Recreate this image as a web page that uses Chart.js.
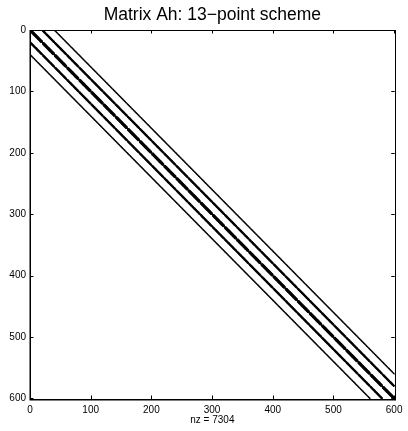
<!DOCTYPE html>
<html>
<head>
<meta charset="utf-8">
<script src="https://cdn.jsdelivr.net/npm/chart.js@4/dist/chart.umd.min.js"></script>
<style>
  html, body { margin: 0; padding: 0; background: #fff; }
  #wrap { width: 408px; height: 431px; }
</style>
</head>
<body>
<div id="wrap"><canvas id="c" width="408" height="431"></canvas></div>
<script>
// 13-point stencil on a 20 x 30 grid (fast index runs over 20 columns)
const gridCols = 20;
const gridRows = 30;
const stencilDx = [0, -1, 1, -2, 2, 0, 0, 0, 0, -1, 1, -1, 1];
const stencilDy = [0, 0, 0, 0, 0, -1, 1, -2, 2, -1, -1, 1, 1];
const tickValues = [0, 100, 200, 300, 400, 500, 600];
const titleText = 'Matrix Ah: 13\u2212point scheme';

// nonzero pattern: row = node index, column = neighbour index (1-based)
const nonzeros = [];
for (let r = 0; r < gridRows; r++) {
  for (let c = 0; c < gridCols; c++) {
    const row = r * gridCols + c + 1;
    for (let s = 0; s < stencilDx.length; s++) {
      const nc = c + stencilDx[s], nr = r + stencilDy[s];
      if (nc < 0 || nc >= gridCols || nr < 0 || nr >= gridRows) continue;
      nonzeros.push({ x: nr * gridCols + nc + 1, y: row });
    }
  }
}
const n = gridCols * gridRows;
const FONT = 'Liberation Sans, Arial, Helvetica, sans-serif';

// box around the axes and inward ticks on all four sides
const boxTicks = {
  id: 'boxTicks',
  afterDatasetsDraw(chart) {
    const { ctx, chartArea: a, scales } = chart;
    const len = 3.5;
    ctx.save();
    ctx.strokeStyle = '#000';
    ctx.lineWidth = 1;
    ctx.beginPath();
    tickValues.forEach(v => {
      const px = Math.round(scales.x.getPixelForValue(v)) + 0.5;
      ctx.moveTo(px, a.bottom); ctx.lineTo(px, a.bottom - len);
      ctx.moveTo(px, a.top); ctx.lineTo(px, a.top + len);
      const py = Math.round(scales.y.getPixelForValue(v)) + 0.5;
      ctx.moveTo(a.left, py); ctx.lineTo(a.left + len, py);
      ctx.moveTo(a.right, py); ctx.lineTo(a.right - len, py);
    });
    ctx.stroke();
    ctx.lineWidth = 1;
    ctx.strokeRect(Math.round(a.left) + 0.5, Math.round(a.top) + 0.5,
                   Math.round(a.right - a.left), Math.round(a.bottom - a.top));
    ctx.lineWidth = 1.5;
    ctx.beginPath();
    ctx.moveTo(Math.round(a.left) + 0.25, Math.round(a.top));
    ctx.lineTo(Math.round(a.left) + 0.25, Math.round(a.bottom) + 0.75);
    ctx.lineTo(Math.round(a.right) + 1, Math.round(a.bottom) + 0.75);
    ctx.stroke();
    ctx.restore();
  }
};

new Chart(document.getElementById('c'), {
  type: 'scatter',
  data: {
    datasets: [{
      data: nonzeros,
      pointStyle: 'circle',
      pointRadius: 0.8,
      pointHoverRadius: 0.8,
      borderWidth: 0,
      backgroundColor: '#000'
    }]
  },
  options: {
    responsive: false,
    devicePixelRatio: 1,
    animation: false,
    events: [],
    layout: { padding: { top: 0, right: 10, bottom: 0, left: 0 } },
    plugins: {
      legend: { display: false },
      tooltip: { enabled: false },
      title: {
        display: true,
        text: titleText,
        fullSize: false,
        color: '#000',
        font: { family: FONT, size: 17.5, weight: 'normal', lineHeight: 1.2 },
        padding: { top: 4.6, bottom: 4.4 }
      }
    },
    scales: {
      x: {
        type: 'linear',
        position: 'bottom',
        min: 0,
        max: n + 1,
        afterBuildTicks: s => { s.ticks = tickValues.map(v => ({ value: v })); },
        afterFit: s => { s.height = 32; },
        grid: { display: false, drawTicks: false },
        border: { display: false },
        ticks: { color: '#000', padding: 5.5, maxRotation: 0, autoSkip: false,
                 font: { family: FONT, size: 10 } },
        title: {
          display: true,
          text: 'nz = ' + nonzeros.length,
          color: '#000',
          font: { family: FONT, size: 10 },
          padding: { top: 0, bottom: 4.5 }
        }
      },
      y: {
        type: 'linear',
        position: 'left',
        reverse: true,
        min: 0,
        max: n + 1,
        afterBuildTicks: s => { s.ticks = tickValues.map(v => ({ value: v })); },
        afterFit: s => { s.width = 30; },
        grid: { display: false, drawTicks: false },
        border: { display: false },
        ticks: { color: '#000', padding: 4, autoSkip: false,
                 font: { family: FONT, size: 10 } }
      }
    }
  },
  plugins: [boxTicks]
});
</script>
</body>
</html>
